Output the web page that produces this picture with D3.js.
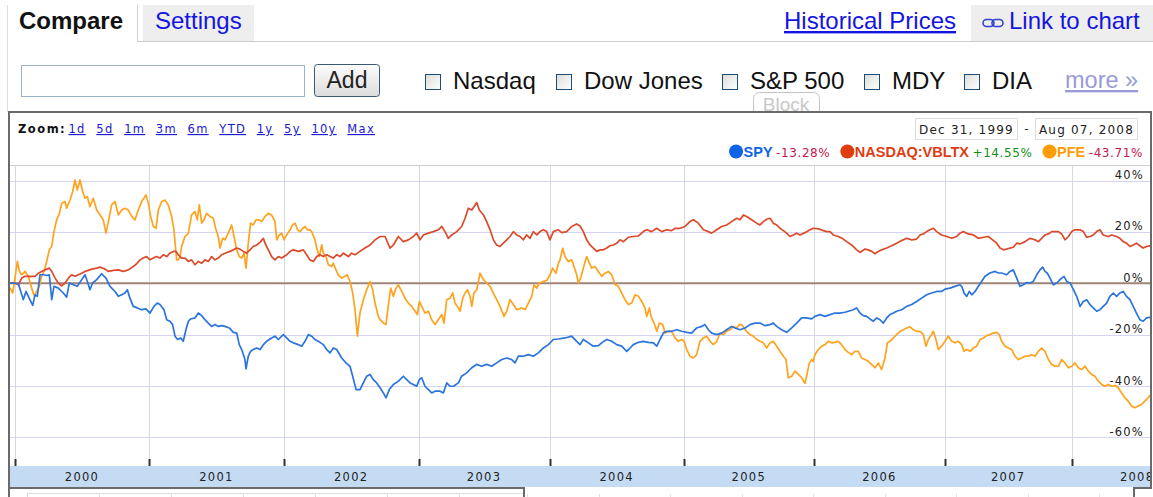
<!DOCTYPE html>
<html>
<head>
<meta charset="utf-8">
<script src="https://cdn.jsdelivr.net/npm/d3@7"></script>
<style>
  html, body { margin: 0; padding: 0; background: #fff; }
  svg { display: block; }
  .sans { font-family: "Liberation Sans", Arial, sans-serif; }
  .pix { font-family: "DejaVu Sans", Verdana, sans-serif; }
</style>
</head>
<body>
<div id="chart"></div>
<script>
// ---------------- DATA ----------------
// [decimal year, % change since Dec 31, 1999]
const spy = [
[1999.965,0],[2000.002,0],[2000.027,-0.2],[2000.045,-3.2],[2000.064,-6.4],[2000.084,-3.2],[2000.101,-5.1],[2000.134,-8.6],
[2000.151,-4.5],[2000.168,-5.1],[2000.188,3.3],[2000.213,3.3],[2000.238,3.0],[2000.257,3.3],[2000.275,-6.4],[2000.292,-1.2],
[2000.324,-1.9],[2000.361,-3.8],[2000.386,-5.4],[2000.406,0.1],[2000.436,-0.6],[2000.465,-1.2],[2000.498,1.4],[2000.522,3.3],
[2000.540,0.7],[2000.559,-2.5],[2000.579,0.1],[2000.609,1.4],[2000.646,3.7],[2000.678,2.0],[2000.708,-1.2],[2000.745,-3.2],
[2000.770,-5.1],[2000.795,-4.5],[2000.819,-3.8],[2000.837,-2.5],[2000.856,-5.8],[2000.881,-9.0],[2000.911,-9.6],[2000.943,-10.3],
[2000.975,-10.0],[2001.005,-11.6],[2001.035,-9.0],[2001.059,-7.7],[2001.079,-8.3],[2001.109,-10.3],[2001.129,-14.2],[2001.153,-14.8],
[2001.173,-16.1],[2001.191,-20.6],[2001.210,-21.9],[2001.233,-21.3],[2001.252,-22.6],[2001.272,-18.1],[2001.290,-14.8],[2001.307,-13.9],
[2001.339,-13.5],[2001.364,-11.6],[2001.389,-12.6],[2001.413,-14.2],[2001.438,-15.5],[2001.463,-16.8],[2001.488,-16.1],[2001.512,-16.8],
[2001.537,-16.5],[2001.562,-16.8],[2001.594,-17.4],[2001.624,-19.1],[2001.649,-19.4],[2001.668,-23.9],[2001.686,-25.8],[2001.710,-29.7],
[2001.718,-33.3],[2001.735,-28.4],[2001.752,-26.5],[2001.772,-25.8],[2001.797,-25.2],[2001.822,-25.8],[2001.847,-23.9],[2001.871,-22.6],
[2001.908,-21.3],[2001.933,-20.6],[2001.958,-21.9],[2001.995,-20.0],[2002.020,-21.3],[2002.045,-22.6],[2002.069,-23.2],[2002.106,-23.9],
[2002.131,-24.5],[2002.156,-22.6],[2002.181,-20.0],[2002.205,-20.6],[2002.230,-21.9],[2002.267,-23.0],[2002.292,-23.9],[2002.317,-25.8],
[2002.342,-27.1],[2002.366,-25.2],[2002.391,-25.8],[2002.428,-29.1],[2002.465,-31.3],[2002.490,-32.3],[2002.510,-36.2],[2002.535,-41.4],
[2002.564,-41.4],[2002.589,-38.8],[2002.614,-36.2],[2002.639,-35.5],[2002.663,-37.5],[2002.688,-38.8],[2002.713,-40.7],[2002.738,-42.7],
[2002.757,-44.6],[2002.782,-41.4],[2002.812,-39.4],[2002.850,-38.1],[2002.886,-36.2],[2002.911,-37.5],[2002.936,-38.8],[2002.960,-39.4],
[2002.985,-40.1],[2003.005,-37.5],[2003.023,-36.8],[2003.048,-40.1],[2003.074,-41.4],[2003.099,-42.7],[2003.125,-42.0],[2003.163,-42.0],
[2003.188,-42.7],[2003.214,-38.8],[2003.239,-40.1],[2003.265,-40.1],[2003.303,-38.8],[2003.328,-36.2],[2003.366,-34.9],[2003.405,-32.9],
[2003.443,-31.6],[2003.481,-32.3],[2003.519,-31.6],[2003.557,-32.3],[2003.595,-31.0],[2003.634,-29.7],[2003.672,-29.1],[2003.710,-29.7],
[2003.735,-31.0],[2003.761,-28.4],[2003.799,-28.4],[2003.837,-27.8],[2003.875,-28.4],[2003.913,-27.1],[2003.952,-25.2],[2003.990,-23.9],
[2004.027,-21.9],[2004.065,-21.7],[2004.114,-21.3],[2004.164,-20.6],[2004.201,-22.6],[2004.226,-23.9],[2004.251,-21.9],[2004.289,-23.2],
[2004.326,-24.5],[2004.363,-24.3],[2004.388,-23.2],[2004.425,-21.9],[2004.463,-22.6],[2004.500,-23.9],[2004.537,-24.5],[2004.575,-26.5],
[2004.600,-25.2],[2004.624,-23.9],[2004.662,-23.0],[2004.699,-22.6],[2004.736,-23.0],[2004.774,-23.2],[2004.799,-24.5],[2004.823,-21.9],
[2004.848,-19.4],[2004.873,-18.7],[2004.910,-18.7],[2004.948,-18.1],[2004.985,-18.7],[2005.023,-19.1],[2005.061,-19.4],[2005.099,-17.4],
[2005.138,-16.8],[2005.163,-16.1],[2005.189,-18.1],[2005.214,-19.4],[2005.253,-20.0],[2005.291,-19.4],[2005.329,-18.1],[2005.367,-16.8],
[2005.393,-17.4],[2005.431,-18.1],[2005.469,-17.4],[2005.508,-16.1],[2005.546,-15.5],[2005.584,-15.5],[2005.622,-16.5],[2005.661,-16.1],
[2005.686,-15.5],[2005.712,-16.8],[2005.750,-18.1],[2005.788,-19.1],[2005.827,-17.4],[2005.865,-15.5],[2005.903,-13.5],[2005.941,-13.5],
[2005.980,-13.9],[2006.005,-12.9],[2006.043,-12.2],[2006.082,-12.9],[2006.120,-12.2],[2006.158,-11.6],[2006.196,-11.6],[2006.235,-11.3],
[2006.260,-10.9],[2006.298,-10.3],[2006.324,-9.6],[2006.349,-11.6],[2006.375,-12.6],[2006.401,-12.9],[2006.426,-13.9],[2006.452,-14.8],
[2006.477,-13.5],[2006.503,-14.2],[2006.528,-15.5],[2006.554,-13.5],[2006.579,-12.2],[2006.605,-11.6],[2006.630,-10.9],[2006.668,-10.3],
[2006.707,-9.0],[2006.745,-8.3],[2006.783,-7.1],[2006.821,-5.8],[2006.860,-4.5],[2006.898,-3.8],[2006.936,-3.2],[2006.974,-3.2],
[2007.000,-2.3],[2007.039,-1.9],[2007.079,-1.2],[2007.118,-0.6],[2007.132,-1.2],[2007.150,-3.8],[2007.171,-5.1],[2007.192,-3.2],
[2007.211,-4.5],[2007.237,-3.2],[2007.263,-1.2],[2007.289,0.7],[2007.316,2.7],[2007.355,4.0],[2007.395,4.6],[2007.421,4.0],
[2007.447,4.0],[2007.487,3.3],[2007.513,4.6],[2007.539,5.2],[2007.566,2.0],[2007.592,-1.2],[2007.618,-0.6],[2007.645,0.3],
[2007.671,0.1],[2007.697,0.7],[2007.724,3.3],[2007.750,5.2],[2007.771,6.3],[2007.789,4.6],[2007.808,3.9],[2007.829,2.0],
[2007.855,-0.6],[2007.882,0.1],[2007.908,1.4],[2007.921,2.0],[2007.939,2.7],[2007.961,0.7],[2007.987,0.1],[2008.013,-2.5],
[2008.038,-5.1],[2008.064,-9.0],[2008.089,-7.1],[2008.114,-6.4],[2008.140,-8.3],[2008.165,-9.6],[2008.191,-10.9],[2008.216,-10.3],
[2008.241,-9.0],[2008.267,-7.7],[2008.292,-5.1],[2008.318,-3.8],[2008.343,-5.1],[2008.368,-3.8],[2008.394,-3.2],[2008.419,-5.1],
[2008.445,-6.4],[2008.470,-9.0],[2008.495,-11.6],[2008.521,-14.2],[2008.546,-14.8],[2008.572,-13.5],[2008.597,-13.28]
];

const vbltx = [
[1999.965,0.1],[2000.002,0.1],[2000.027,-0.6],[2000.052,2.0],[2000.077,2.7],[2000.114,2.7],[2000.151,2.7],[2000.176,3.9],
[2000.200,4.6],[2000.225,5.2],[2000.257,5.9],[2000.275,4.6],[2000.300,2.0],[2000.324,0.1],[2000.349,-1.0],[2000.374,0.1],
[2000.399,2.0],[2000.423,3.3],[2000.448,2.7],[2000.473,3.3],[2000.498,3.9],[2000.522,4.6],[2000.547,5.0],[2000.572,5.5],
[2000.609,5.9],[2000.634,6.3],[2000.671,5.5],[2000.696,4.6],[2000.733,5.0],[2000.770,5.2],[2000.807,4.6],[2000.844,5.2],
[2000.881,6.5],[2000.906,7.6],[2000.931,9.1],[2000.955,9.8],[2000.980,10.4],[2001.005,9.1],[2001.030,9.8],[2001.054,10.4],
[2001.079,9.8],[2001.104,11.1],[2001.129,10.4],[2001.153,11.7],[2001.178,12.4],[2001.198,12.4],[2001.215,11.1],[2001.240,9.8],
[2001.265,9.8],[2001.290,8.5],[2001.314,9.1],[2001.339,7.2],[2001.364,8.5],[2001.389,7.8],[2001.413,9.1],[2001.438,8.5],
[2001.463,10.4],[2001.488,9.1],[2001.512,9.8],[2001.537,11.1],[2001.562,11.7],[2001.599,12.4],[2001.624,13.0],[2001.649,13.7],
[2001.673,13.3],[2001.698,12.4],[2001.723,11.7],[2001.748,13.0],[2001.772,14.3],[2001.797,14.9],[2001.822,15.9],[2001.847,17.5],
[2001.859,15.6],[2001.884,13.0],[2001.908,10.4],[2001.933,9.1],[2001.958,10.4],[2001.983,9.8],[2002.020,11.1],[2002.045,12.4],
[2002.069,13.0],[2002.106,12.4],[2002.144,13.0],[2002.168,11.1],[2002.193,9.1],[2002.218,8.5],[2002.243,10.4],[2002.267,11.1],
[2002.292,10.4],[2002.317,11.1],[2002.342,10.4],[2002.366,9.8],[2002.391,11.1],[2002.416,10.4],[2002.441,11.7],[2002.478,10.4],
[2002.502,11.7],[2002.527,11.1],[2002.564,12.4],[2002.601,13.7],[2002.639,14.9],[2002.676,16.9],[2002.713,18.2],[2002.750,18.2],
[2002.787,13.7],[2002.812,14.9],[2002.849,18.2],[2002.886,16.2],[2002.923,16.9],[2002.960,18.2],[2002.985,19.5],[2003.010,16.9],
[2003.036,18.8],[2003.074,19.5],[2003.112,20.1],[2003.150,20.8],[2003.176,22.1],[2003.201,20.1],[2003.226,17.5],[2003.252,18.8],
[2003.290,20.1],[2003.328,22.1],[2003.354,25.3],[2003.379,29.2],[2003.405,28.5],[2003.422,29.8],[2003.443,31.4],[2003.463,28.5],
[2003.494,26.6],[2003.519,24.0],[2003.545,20.8],[2003.570,16.9],[2003.595,14.9],[2003.621,14.3],[2003.646,15.6],[2003.672,16.9],
[2003.697,18.2],[2003.723,20.1],[2003.748,18.8],[2003.774,18.2],[2003.799,16.9],[2003.824,18.8],[2003.850,17.5],[2003.875,20.1],
[2003.901,18.8],[2003.926,20.1],[2003.952,20.8],[2003.977,20.1],[2004.002,16.9],[2004.027,20.1],[2004.065,20.8],[2004.090,19.7],
[2004.127,20.1],[2004.164,22.1],[2004.201,23.1],[2004.226,22.3],[2004.251,20.1],[2004.276,16.9],[2004.301,14.9],[2004.326,13.7],
[2004.351,12.4],[2004.376,13.0],[2004.400,13.0],[2004.425,13.7],[2004.450,14.6],[2004.475,14.9],[2004.500,15.6],[2004.525,16.9],
[2004.550,16.2],[2004.587,17.9],[2004.624,18.2],[2004.662,18.4],[2004.699,20.1],[2004.724,20.8],[2004.761,20.1],[2004.798,21.4],
[2004.836,20.1],[2004.873,20.8],[2004.910,20.5],[2004.935,21.4],[2004.973,21.4],[2005.010,22.1],[2005.048,24.0],[2005.074,24.7],
[2005.112,23.4],[2005.151,20.8],[2005.189,20.1],[2005.214,19.5],[2005.253,20.8],[2005.291,22.1],[2005.329,22.7],[2005.367,24.0],
[2005.406,25.3],[2005.431,24.7],[2005.457,26.6],[2005.482,26.0],[2005.520,24.7],[2005.559,23.4],[2005.584,22.7],[2005.610,24.0],
[2005.635,24.9],[2005.661,25.3],[2005.686,23.4],[2005.712,22.7],[2005.737,21.4],[2005.763,20.5],[2005.788,19.5],[2005.814,18.2],
[2005.839,18.8],[2005.865,19.5],[2005.890,18.8],[2005.929,19.7],[2005.967,20.8],[2005.992,21.4],[2006.031,21.2],[2006.069,20.5],
[2006.094,20.1],[2006.120,20.1],[2006.145,18.8],[2006.184,18.2],[2006.222,17.2],[2006.247,16.2],[2006.286,14.9],[2006.324,13.0],
[2006.349,12.0],[2006.388,13.3],[2006.413,13.0],[2006.439,12.4],[2006.464,11.5],[2006.490,12.4],[2006.515,13.0],[2006.554,13.7],
[2006.592,14.6],[2006.630,15.6],[2006.668,16.6],[2006.707,17.5],[2006.745,16.9],[2006.783,17.2],[2006.809,18.8],[2006.834,19.2],
[2006.860,20.1],[2006.885,20.8],[2006.911,21.4],[2006.936,20.1],[2006.974,18.8],[2007.013,18.2],[2007.053,17.5],[2007.092,18.2],
[2007.118,19.5],[2007.145,20.1],[2007.184,19.2],[2007.224,18.8],[2007.263,17.5],[2007.303,17.9],[2007.342,18.2],[2007.368,17.2],
[2007.408,15.6],[2007.434,13.7],[2007.461,13.0],[2007.487,13.3],[2007.513,13.7],[2007.539,14.0],[2007.566,15.6],[2007.592,15.3],
[2007.632,16.2],[2007.671,17.5],[2007.711,16.9],[2007.737,16.2],[2007.763,17.5],[2007.789,18.8],[2007.816,19.2],[2007.842,20.1],
[2007.868,20.1],[2007.895,20.1],[2007.921,19.2],[2007.947,16.9],[2007.974,18.2],[2008.000,20.1],[2008.025,20.8],[2008.064,20.8],
[2008.089,20.1],[2008.114,17.9],[2008.140,18.2],[2008.165,18.8],[2008.191,20.1],[2008.216,20.8],[2008.241,18.8],[2008.279,18.2],
[2008.305,18.8],[2008.343,18.2],[2008.368,17.5],[2008.394,16.2],[2008.419,15.6],[2008.445,14.3],[2008.470,14.9],[2008.495,15.6],
[2008.521,14.6],[2008.546,13.7],[2008.572,14.3],[2008.597,14.55]
];

const pfe = [
[1999.965,-1.9],[1999.985,-3.8],[2000.002,2.0],[2000.020,8.5],[2000.035,4.6],[2000.052,3.3],[2000.077,4.6],[2000.101,2.7],
[2000.126,-1.9],[2000.146,-5.1],[2000.163,-3.2],[2000.183,-1.2],[2000.200,2.7],[2000.218,4.6],[2000.238,8.5],[2000.257,13.0],
[2000.275,14.3],[2000.292,20.1],[2000.312,24.7],[2000.332,27.2],[2000.349,31.1],[2000.374,31.8],[2000.386,29.2],[2000.411,32.4],
[2000.431,35.7],[2000.448,40.2],[2000.465,36.3],[2000.485,40.2],[2000.505,35.7],[2000.522,33.1],[2000.540,33.7],[2000.559,29.8],
[2000.584,33.1],[2000.609,28.5],[2000.634,26.6],[2000.658,24.7],[2000.678,19.5],[2000.696,24.0],[2000.720,30.5],[2000.745,31.8],
[2000.770,26.6],[2000.795,28.5],[2000.819,29.2],[2000.844,28.5],[2000.869,26.0],[2000.894,24.7],[2000.918,28.5],[2000.943,31.8],
[2000.960,33.1],[2000.975,34.4],[2000.993,31.1],[2001.010,26.0],[2001.030,22.1],[2001.050,21.4],[2001.067,28.5],[2001.092,31.8],
[2001.116,32.4],[2001.141,30.5],[2001.166,26.0],[2001.183,20.8],[2001.203,9.1],[2001.215,9.1],[2001.228,10.4],[2001.240,14.3],
[2001.265,18.2],[2001.290,19.5],[2001.314,26.6],[2001.339,27.9],[2001.356,24.7],[2001.371,30.5],[2001.389,23.4],[2001.406,24.7],
[2001.426,27.2],[2001.450,26.0],[2001.475,25.3],[2001.495,20.8],[2001.512,18.2],[2001.525,13.7],[2001.545,17.5],[2001.562,16.9],
[2001.587,19.5],[2001.611,22.7],[2001.629,18.2],[2001.649,13.0],[2001.668,10.4],[2001.686,9.8],[2001.703,11.7],[2001.718,5.9],
[2001.735,15.6],[2001.752,23.4],[2001.772,22.7],[2001.792,24.7],[2001.809,24.7],[2001.834,24.0],[2001.859,26.0],[2001.884,27.2],
[2001.908,26.6],[2001.933,24.0],[2001.946,16.9],[2001.965,18.8],[2001.983,19.5],[2002.000,16.9],[2002.020,18.8],[2002.045,20.8],
[2002.064,22.7],[2002.082,23.4],[2002.101,20.8],[2002.119,20.1],[2002.139,21.4],[2002.156,22.1],[2002.173,20.8],[2002.193,20.8],
[2002.205,20.1],[2002.230,16.9],[2002.243,13.7],[2002.262,10.4],[2002.280,14.9],[2002.292,11.7],[2002.312,10.4],[2002.329,7.2],
[2002.354,6.5],[2002.366,7.8],[2002.386,5.2],[2002.403,3.3],[2002.428,2.0],[2002.453,2.7],[2002.470,3.3],[2002.490,0.7],
[2002.510,-3.8],[2002.527,-10.3],[2002.545,-20.6],[2002.564,-11.6],[2002.589,-6.4],[2002.614,-2.5],[2002.639,0.7],[2002.658,-2.5],
[2002.676,-7.7],[2002.700,-12.9],[2002.713,-14.2],[2002.738,-15.5],[2002.757,-16.1],[2002.775,-8.4],[2002.792,-1.9],[2002.812,-5.1],
[2002.832,-1.9],[2002.849,-0.6],[2002.874,-3.2],[2002.898,-5.8],[2002.923,-7.7],[2002.948,-9.0],[2002.973,-10.9],[2002.990,-12.2],
[2003.005,-7.1],[2003.023,-9.0],[2003.048,-11.6],[2003.074,-10.9],[2003.099,-14.2],[2003.125,-16.1],[2003.150,-14.2],[2003.176,-12.2],
[2003.193,-15.5],[2003.214,-6.4],[2003.239,-5.8],[2003.260,-3.8],[2003.277,-7.7],[2003.303,-9.6],[2003.316,-10.9],[2003.336,-5.8],
[2003.354,-3.8],[2003.372,-2.5],[2003.392,-5.1],[2003.405,-9.0],[2003.422,-3.8],[2003.443,-2.5],[2003.468,3.9],[2003.494,1.4],
[2003.519,0.1],[2003.545,-1.2],[2003.570,-3.8],[2003.595,-6.4],[2003.621,-9.0],[2003.651,-12.9],[2003.672,-10.9],[2003.697,-6.4],
[2003.723,-8.3],[2003.748,-10.3],[2003.786,-9.6],[2003.812,-10.3],[2003.837,-7.7],[2003.863,-5.1],[2003.880,-0.6],[2003.901,-1.9],
[2003.921,0.1],[2003.952,0.7],[2003.977,1.1],[2003.997,2.7],[2004.022,5.9],[2004.047,3.9],[2004.065,7.8],[2004.077,9.1],
[2004.097,13.6],[2004.114,10.4],[2004.139,8.5],[2004.164,9.1],[2004.182,6.5],[2004.201,3.3],[2004.214,0.1],[2004.231,2.0],
[2004.251,5.9],[2004.276,10.4],[2004.296,7.8],[2004.313,5.9],[2004.338,6.5],[2004.363,4.6],[2004.388,2.7],[2004.413,3.9],
[2004.438,4.6],[2004.463,3.3],[2004.488,-0.6],[2004.512,-1.2],[2004.537,-3.8],[2004.562,-6.4],[2004.587,-8.3],[2004.612,-7.7],
[2004.637,-4.5],[2004.662,-5.1],[2004.687,-7.1],[2004.711,-9.6],[2004.724,-12.9],[2004.744,-9.6],[2004.756,-12.9],[2004.779,-15.5],
[2004.799,-18.7],[2004.818,-15.5],[2004.843,-16.1],[2004.861,-19.4],[2004.886,-18.7],[2004.910,-18.7],[2004.935,-21.3],[2004.960,-22.6],
[2004.985,-21.9],[2005.003,-22.6],[2005.023,-25.8],[2005.048,-28.4],[2005.074,-29.1],[2005.099,-27.8],[2005.125,-22.6],[2005.151,-21.3],
[2005.176,-20.6],[2005.202,-22.6],[2005.227,-23.9],[2005.253,-22.6],[2005.278,-19.4],[2005.304,-20.0],[2005.329,-18.7],[2005.355,-18.1],
[2005.380,-16.8],[2005.406,-17.4],[2005.426,-16.1],[2005.444,-16.1],[2005.462,-17.4],[2005.482,-18.7],[2005.508,-20.0],[2005.533,-20.6],
[2005.559,-21.9],[2005.584,-22.6],[2005.610,-23.2],[2005.635,-25.2],[2005.661,-23.2],[2005.686,-22.6],[2005.712,-24.5],[2005.737,-26.5],
[2005.763,-28.4],[2005.783,-29.7],[2005.801,-36.8],[2005.827,-36.2],[2005.852,-34.2],[2005.878,-35.5],[2005.903,-36.8],[2005.929,-39.0],
[2005.941,-36.2],[2005.962,-31.0],[2005.980,-29.7],[2005.992,-30.4],[2006.005,-27.8],[2006.031,-25.8],[2006.056,-24.5],[2006.082,-23.9],
[2006.107,-22.6],[2006.133,-23.2],[2006.158,-23.0],[2006.184,-22.6],[2006.209,-23.9],[2006.235,-25.8],[2006.260,-26.9],[2006.286,-27.8],
[2006.311,-26.5],[2006.337,-26.5],[2006.362,-29.1],[2006.388,-29.7],[2006.413,-30.4],[2006.439,-31.6],[2006.464,-32.9],[2006.490,-31.0],
[2006.515,-33.6],[2006.541,-29.1],[2006.559,-23.2],[2006.579,-22.6],[2006.605,-21.3],[2006.630,-20.0],[2006.656,-18.7],[2006.681,-18.1],
[2006.707,-17.4],[2006.732,-17.0],[2006.758,-18.1],[2006.783,-18.7],[2006.809,-18.7],[2006.834,-20.0],[2006.855,-24.5],[2006.872,-21.9],
[2006.890,-20.6],[2006.911,-18.7],[2006.931,-21.9],[2006.949,-25.8],[2006.974,-24.5],[2007.000,-22.6],[2007.026,-20.6],[2007.053,-22.6],
[2007.079,-23.2],[2007.105,-22.6],[2007.132,-23.9],[2007.150,-26.5],[2007.171,-25.8],[2007.197,-26.5],[2007.224,-25.2],[2007.250,-24.5],
[2007.276,-21.9],[2007.303,-21.3],[2007.329,-20.4],[2007.355,-20.0],[2007.382,-19.4],[2007.408,-19.1],[2007.429,-20.0],[2007.447,-22.6],
[2007.474,-24.5],[2007.500,-25.2],[2007.526,-25.8],[2007.553,-28.4],[2007.579,-29.7],[2007.605,-29.1],[2007.632,-28.4],[2007.658,-28.4],
[2007.684,-27.8],[2007.711,-28.4],[2007.737,-26.5],[2007.763,-25.2],[2007.789,-26.5],[2007.816,-29.7],[2007.842,-31.6],[2007.868,-32.3],
[2007.895,-32.3],[2007.921,-29.7],[2007.947,-31.0],[2007.974,-32.9],[2008.000,-32.3],[2008.025,-31.0],[2008.051,-32.9],[2008.076,-33.6],
[2008.102,-32.3],[2008.127,-34.2],[2008.152,-35.5],[2008.178,-36.2],[2008.203,-38.1],[2008.229,-39.4],[2008.254,-40.1],[2008.279,-39.4],
[2008.305,-40.1],[2008.330,-39.8],[2008.356,-40.7],[2008.381,-42.7],[2008.407,-44.6],[2008.432,-45.9],[2008.457,-47.8],[2008.483,-48.5],
[2008.508,-47.8],[2008.533,-47.2],[2008.559,-45.9],[2008.584,-44.6],[2008.597,-43.71]
];

const seriesNames = ["SPY", "NASDAQ:VBLTX", "PFE"];
const seriesChanges = ["-13.28%", "+14.55%", "-43.71%"];
const yTicks = [40, 20, 0, -20, -40, -60];
const yearLabels = [2000, 2001, 2002, 2003, 2004, 2005, 2006, 2007, 2008];
const zoomLinks = ["1d", "5d", "1m", "3m", "6m", "YTD", "1y", "5y", "10y", "Max"];
const indexChoices = ["Nasdaq", "Dow Jones", "S&P 500", "MDY", "DIA"];
const dateRange = ["Dec 31, 1999", "Aug 07, 2008"];

// ---------------- DRAW ----------------
const W = 1153, H = 497;
const svg = d3.select("#chart").append("svg").attr("width", W).attr("height", H);
const defs = svg.append("defs");

const gBtn = defs.append("linearGradient").attr("id", "btnGrad").attr("x1", 0).attr("y1", 0).attr("x2", 0).attr("y2", 1);
gBtn.append("stop").attr("offset", "0%").attr("stop-color", "#fdfdfd");
gBtn.append("stop").attr("offset", "100%").attr("stop-color", "#dcdcdc");
const gCb = defs.append("linearGradient").attr("id", "cbGrad").attr("x1", 0).attr("y1", 0).attr("x2", 1).attr("y2", 1);
gCb.append("stop").attr("offset", "0%").attr("stop-color", "#dcdcd6");
gCb.append("stop").attr("offset", "100%").attr("stop-color", "#ffffff");

// ---- tabs ----
svg.append("line").attr("x1", 7.5).attr("x2", 7.5).attr("y1", 5).attr("y2", 112).attr("stroke", "#dddddd");
svg.append("line").attr("x1", 137.5).attr("x2", 137.5).attr("y1", 5).attr("y2", 41).attr("stroke", "#d0d0d0");
svg.append("rect").attr("x", 143).attr("y", 5).attr("width", 111).attr("height", 36).attr("fill", "#eeeeee");
svg.append("rect").attr("x", 971).attr("y", 5).attr("width", 182).attr("height", 36).attr("fill", "#eeeeee");
svg.append("line").attr("x1", 137).attr("x2", W).attr("y1", 41.5).attr("y2", 41.5).attr("stroke", "#cccccc");

svg.append("text").attr("class", "sans").attr("x", 19).attr("y", 29)
  .attr("font-size", 24).attr("font-weight", "bold").attr("fill", "#111").text("Compare");
svg.append("text").attr("class", "sans").attr("x", 155).attr("y", 29)
  .attr("font-size", 24).attr("fill", "#1515e0").text("Settings");
svg.append("text").attr("class", "sans").attr("x", 784).attr("y", 29)
  .attr("font-size", 24).attr("fill", "#1515e0").style("text-decoration", "underline").text("Historical Prices");
// chain icon
const chain = svg.append("g").attr("fill", "none").attr("stroke", "#3344cc").attr("stroke-width", 1.6);
chain.append("rect").attr("x", 983).attr("y", 19.5).attr("width", 11).attr("height", 7).attr("rx", 3.5);
chain.append("rect").attr("x", 992).attr("y", 19.5).attr("width", 11).attr("height", 7).attr("rx", 3.5);
svg.append("text").attr("class", "sans").attr("x", 1009).attr("y", 29)
  .attr("font-size", 24).attr("fill", "#1515e0").text("Link to chart");

// ---- search row ----
svg.append("rect").attr("x", 21.5).attr("y", 65.5).attr("width", 283).attr("height", 31)
  .attr("fill", "#fff").attr("stroke", "#9db3cc");
svg.append("rect").attr("x", 314.5).attr("y", 64.5).attr("width", 65).attr("height", 32).attr("rx", 3)
  .attr("fill", "url(#btnGrad)").attr("stroke", "#3d5873");
svg.append("text").attr("class", "sans").attr("x", 347).attr("y", 88).attr("text-anchor", "middle")
  .attr("font-size", 23).attr("fill", "#222").text("Add");

const cbX = [425, 556, 722, 864, 964];
indexChoices.forEach((name, i) => {
  svg.append("rect").attr("x", cbX[i] + 0.5).attr("y", 74.5).attr("width", 15).attr("height", 15)
    .attr("fill", "url(#cbGrad)").attr("stroke", "#1c4c7a");
  svg.append("text").attr("class", "sans").attr("x", cbX[i] + 28).attr("y", 89)
    .attr("font-size", 24).attr("fill", "#111").text(name);
});
svg.append("text").attr("class", "sans").attr("x", 1065).attr("y", 88)
  .attr("font-size", 23.5).attr("fill", "#9a9ad8").style("text-decoration", "underline").text("more »");

// ghost "Block" button
svg.append("rect").attr("x", 753.5).attr("y", 92.5).attr("width", 66).attr("height", 26).attr("rx", 6)
  .attr("fill", "#fff").attr("stroke", "#c4c4c4");
svg.append("text").attr("class", "sans").attr("x", 786).attr("y", 111).attr("text-anchor", "middle")
  .attr("font-size", 19).attr("fill", "#c8c8c8").text("Block");

// ---- chart frame contents ----
svg.append("rect").attr("x", 10).attr("y", 113).attr("width", 1140).attr("height", 375).attr("fill", "#fff");

// Zoom links
svg.append("text").attr("class", "pix").attr("x", 18).attr("y", 133).attr("font-size", 11.5)
  .attr("font-weight", "bold").attr("letter-spacing", 1.5).attr("fill", "#111").text("Zoom:");
let zx = 68.5;
zoomLinks.forEach(l => {
  const t = svg.append("text").attr("class", "pix").attr("x", zx).attr("y", 133).attr("font-size", 11.5)
    .attr("letter-spacing", 1.3).attr("fill", "#1a1ad0").style("text-decoration", "underline").text(l);
  zx += t.node().getComputedTextLength() + 10.6;
});

// Date range boxes
const dbx = [915.5, 1035.5];
dateRange.forEach((d, i) => {
  svg.append("rect").attr("x", dbx[i]).attr("y", 118.5).attr("width", 102).attr("height", 21)
    .attr("fill", "#fff").attr("stroke", "#dddddd");
  svg.append("text").attr("class", "pix").attr("x", dbx[i] + 51).attr("y", 133.5).attr("text-anchor", "middle")
    .attr("font-size", 12).attr("letter-spacing", 1.2).attr("fill", "#222").text(d);
});
svg.append("text").attr("class", "pix").attr("x", 1026.5).attr("y", 133).attr("text-anchor", "middle")
  .attr("font-size", 12).attr("fill", "#333").text("-");

// Legend
const lineColors = ["#2b74de", "#dc4a2c", "#ffa31e"];
const dotColors = ["#0f63e6", "#df3c12", "#ff9c08"];
const chgColors = ["#c4184e", "#11901a", "#c4184e"];
const leg = svg.append("g");
let lx = 0;
seriesNames.forEach((n, i) => {
  leg.append("circle").attr("cx", lx + 7).attr("cy", 151.5).attr("r", 7).attr("fill", dotColors[i]);
  lx += 14.5;
  const nt = leg.append("text").attr("class", "sans").attr("x", lx).attr("y", 157)
    .attr("font-size", 14.5).attr("font-weight", "bold").attr("fill", dotColors[i]).text(n);
  lx += nt.node().getComputedTextLength() + 3.5;
  const ct = leg.append("text").attr("class", "pix").attr("x", lx).attr("y", 157)
    .attr("font-size", 12).attr("letter-spacing", 0.6).attr("fill", chgColors[i]).text(seriesChanges[i]);
  lx += ct.node().getComputedTextLength() + (i < seriesNames.length - 1 ? 10 : 0);
});
leg.attr("transform", `translate(${1143 - lx},0)`);

// ---- plot ----
const plotL = 10, plotR = 1150, plotT = 165, plotB = 466;
const bandB = 487;
const toDate = t => {
  const y = Math.floor(t);
  const a = new Date(y, 0, 1), b = new Date(y + 1, 0, 1);
  return new Date(+a + (t - y) * (b - a));
};
const x = d3.scaleTime()
  .domain([...yearLabels.map(y => new Date(y, 0, 1)), new Date(2008, 7, 7)])
  .range([14.7, 149.3, 284, 418.7, 549.7, 683.7, 814.3, 945, 1071.7, 1150]);
const y = d3.scaleLinear().domain([-40, 40]).range([386, 180.5]);

svg.append("line").attr("x1", plotL).attr("x2", plotR).attr("y1", plotT + 0.5).attr("y2", plotT + 0.5)
  .attr("stroke", "#cfcfcf");

defs.append("clipPath").attr("id", "plotClip").append("rect")
  .attr("x", plotL).attr("y", plotT + 1).attr("width", plotR - plotL).attr("height", plotB - plotT - 1);
defs.append("clipPath").attr("id", "bandClip").append("rect")
  .attr("x", plotL).attr("y", plotB).attr("width", plotR - plotL).attr("height", bandB - plotB);

// year gridlines
const yearDates = yearLabels.map(yy => new Date(yy, 0, 1));
svg.append("g").selectAll("line").data(yearDates).join("line")
  .attr("x1", d => Math.round(x(d)) + 0.5).attr("x2", d => Math.round(x(d)) + 0.5)
  .attr("y1", plotT + 1).attr("y2", plotB)
  .attr("stroke", "#d5dcd5");

// horizontal gridlines
svg.append("g").selectAll("line").data(yTicks.filter(v => v !== 0)).join("line")
  .attr("x1", plotL).attr("x2", plotR)
  .attr("y1", d => Math.round(y(d)) + 0.5).attr("y2", d => Math.round(y(d)) + 0.5)
  .attr("stroke", "#d4d4f4");

// zero line
svg.append("line").attr("x1", plotL).attr("x2", plotR).attr("y1", y(0)).attr("y2", y(0))
  .attr("stroke", "#a08478").attr("stroke-width", 2);

// series
const line = d3.line().x(d => x(toDate(d[0]))).y(d => y(d[1]));
const gl = svg.append("g").attr("clip-path", "url(#plotClip)");
[[pfe, 2], [vbltx, 1], [spy, 0]].forEach(([data, i]) => {
  gl.append("path").datum(data).attr("d", line).attr("fill", "none")
    .attr("stroke", lineColors[i]).attr("stroke-width", 1.7)
    .attr("stroke-linejoin", "round").attr("stroke-linecap", "round");
});

// y labels
svg.append("g").selectAll("text").data(yTicks).join("text")
  .attr("class", "pix").attr("x", 1144).attr("y", d => y(d) - 1.5).attr("text-anchor", "end")
  .attr("font-size", 11.5).attr("letter-spacing", 1.2).attr("fill", "#222")
  .text(d => d + "%");

// x ticks
svg.append("g").selectAll("line").data(yearDates).join("line")
  .attr("x1", d => Math.round(x(d)) + 0.5).attr("x2", d => Math.round(x(d)) + 0.5)
  .attr("y1", plotB - 7).attr("y2", plotB)
  .attr("stroke", "#333").attr("stroke-width", 2);

// band
svg.append("rect").attr("x", plotL).attr("y", plotB).attr("width", plotR - plotL).attr("height", bandB - plotB)
  .attr("fill", "#c5dbf4");
svg.append("g").attr("clip-path", "url(#bandClip)").selectAll("text").data(yearLabels).join("text")
  .attr("class", "pix")
  .attr("x", d => x(new Date(d, 6, 2)))
  .attr("y", 481).attr("text-anchor", "middle")
  .attr("font-size", 11.5).attr("letter-spacing", 1.3).attr("fill", "#222")
  .text(d => d);

// navigator strip below
const nav = svg.append("g").attr("stroke", "#dcdcdc");
nav.append("line").attr("x1", 27).attr("x2", 524).attr("y1", 493.5).attr("y2", 493.5);
d3.range(27, 524, 72).forEach(px => {
  nav.append("line").attr("x1", px + 0.5).attr("x2", px + 0.5).attr("y1", 493.5).attr("y2", 497);
});
d3.range(527, 1134, 71.5).forEach(px => {
  nav.append("line").attr("x1", Math.round(px) + 0.5).attr("x2", Math.round(px) + 0.5).attr("y1", 494).attr("y2", 497)
    .attr("stroke", "#e2e2e2");
});

// frame
const frame = svg.append("g").attr("fill", "none").attr("stroke", "#6a6a6a").attr("stroke-width", 2);
frame.append("path").attr("d", "M9,497 L9,112 L1151,112 L1151,488 L1134,488 L1134,497");
frame.append("path").attr("d", "M9,488 L524,488 L524,497");
</script>
</body>
</html>
